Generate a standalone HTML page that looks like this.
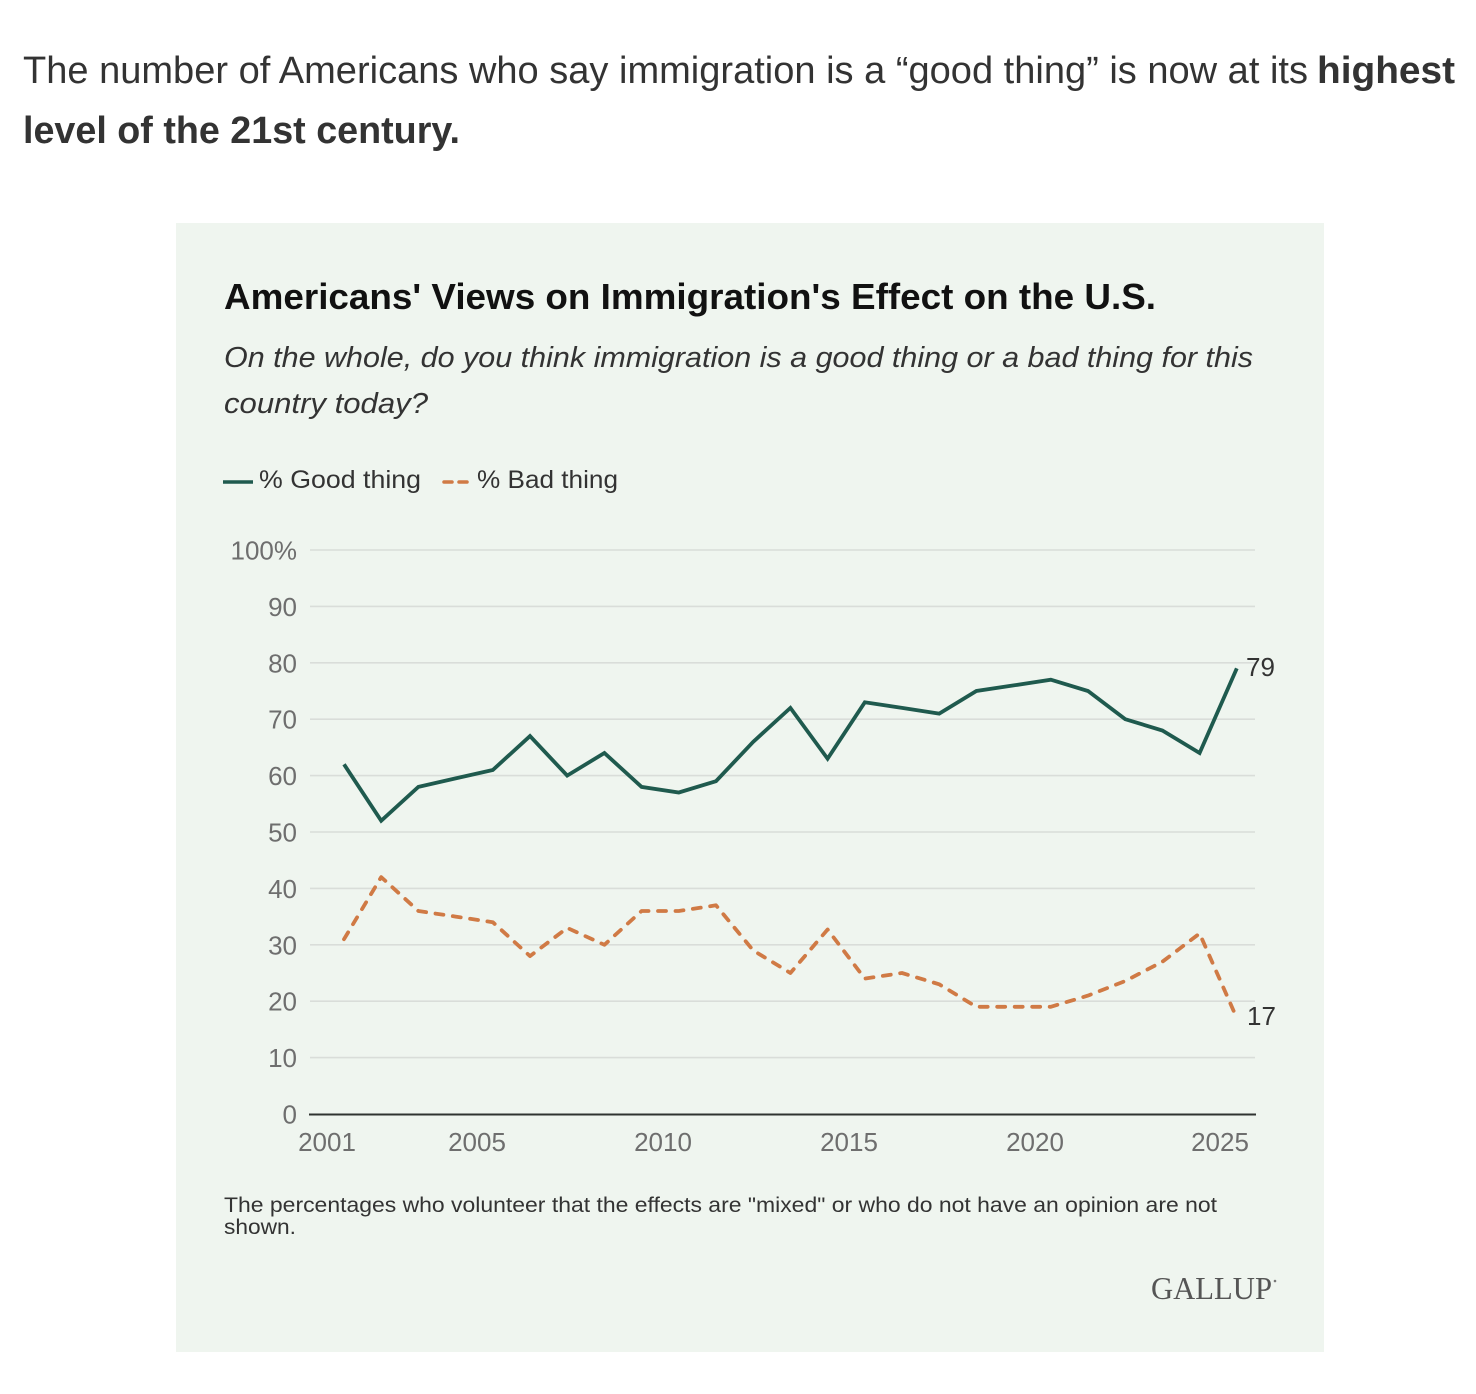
<!DOCTYPE html>
<html>
<head>
<meta charset="utf-8">
<style>
  html, body { margin: 0; padding: 0; background: #ffffff; }
  svg { display: block; }
  text { font-family: "Liberation Sans", "DejaVu Sans", sans-serif; }
</style>
</head>
<body>
<svg width="1476" height="1394" viewBox="0 0 1476 1394" xmlns="http://www.w3.org/2000/svg">
  <rect x="0" y="0" width="1476" height="1394" fill="#ffffff"/>

  <!-- Header -->
  <text x="23" y="83" font-size="38" fill="#333333" textLength="1285" lengthAdjust="spacingAndGlyphs">The number of Americans who say immigration is a “good thing” is now at its</text>
  <text x="1317" y="83" font-size="38" font-weight="bold" fill="#333333" textLength="138" lengthAdjust="spacingAndGlyphs">highest</text>
  <text x="23" y="143" font-size="38" font-weight="bold" fill="#333333" textLength="437" lengthAdjust="spacingAndGlyphs">level of the 21st century.</text>

  <!-- Card -->
  <rect x="176" y="223" width="1148" height="1129" fill="#eff5ef"/>

  <!-- Title -->
  <text x="224" y="309" font-size="36" font-weight="bold" fill="#111111" textLength="932" lengthAdjust="spacingAndGlyphs">Americans' Views on Immigration's Effect on the U.S.</text>
  <text x="224" y="367" font-size="29" font-style="italic" fill="#333333" textLength="1029" lengthAdjust="spacingAndGlyphs">On the whole, do you think immigration is a good thing or a bad thing for this</text>
  <text x="224" y="413" font-size="29" font-style="italic" fill="#333333" textLength="204" lengthAdjust="spacingAndGlyphs">country today?</text>

  <!-- Legend -->
  <line x1="223" y1="482" x2="253" y2="482" stroke="#1f5a4e" stroke-width="3.5"/>
  <text x="259" y="488" font-size="25" fill="#333333" textLength="162" lengthAdjust="spacingAndGlyphs">% Good thing</text>
  <line x1="444" y1="482" x2="452" y2="482" stroke="#d07a45" stroke-width="3.5" stroke-linecap="round"/>
  <line x1="459" y1="482" x2="467" y2="482" stroke="#d07a45" stroke-width="3.5" stroke-linecap="round"/>
  <text x="477" y="488" font-size="25" fill="#333333" textLength="141" lengthAdjust="spacingAndGlyphs">% Bad thing</text>

  <!-- Gridlines -->
  <g stroke="#d9ddd9" stroke-width="1.6">
    <line x1="310" y1="550" x2="1255" y2="550"/>
    <line x1="310" y1="606.4" x2="1255" y2="606.4"/>
    <line x1="310" y1="662.8" x2="1255" y2="662.8"/>
    <line x1="310" y1="719.2" x2="1255" y2="719.2"/>
    <line x1="310" y1="775.6" x2="1255" y2="775.6"/>
    <line x1="310" y1="832" x2="1255" y2="832"/>
    <line x1="310" y1="888.4" x2="1255" y2="888.4"/>
    <line x1="310" y1="944.8" x2="1255" y2="944.8"/>
    <line x1="310" y1="1001.2" x2="1255" y2="1001.2"/>
    <line x1="310" y1="1057.6" x2="1255" y2="1057.6"/>
  </g>
  <line x1="309" y1="1114.5" x2="1256" y2="1114.5" stroke="#2f3330" stroke-width="2"/>

  <!-- Y tick labels -->
  <g font-size="26" fill="#6e6e6e" text-anchor="end">
    <text x="297" y="559.5">100%</text>
    <text x="297" y="615.9">90</text>
    <text x="297" y="672.3">80</text>
    <text x="297" y="728.7">70</text>
    <text x="297" y="785.1">60</text>
    <text x="297" y="841.5">50</text>
    <text x="297" y="897.9">40</text>
    <text x="297" y="954.3">30</text>
    <text x="297" y="1010.7">20</text>
    <text x="297" y="1067.1">10</text>
    <text x="297" y="1123.5">0</text>
  </g>

  <!-- X tick labels -->
  <g font-size="26" fill="#6e6e6e" text-anchor="middle">
    <text x="327" y="1151">2001</text>
    <text x="477" y="1151">2005</text>
    <text x="663" y="1151">2010</text>
    <text x="849" y="1151">2015</text>
    <text x="1035" y="1151">2020</text>
    <text x="1220" y="1151">2025</text>
  </g>

  <!-- Good thing series -->
  <polyline fill="none" stroke="#1f5a4e" stroke-width="3.8" stroke-linejoin="miter" stroke-linecap="butt"
    points="344,764.3 381.2,820.7 418.4,786.9 455.6,778.4 492.8,770 530,736.1 567.2,775.6 604.4,753 641.6,786.9 678.8,792.5 716,781.2 753.2,741.8 790.4,707.9 827.6,758.7 864.8,702.3 902,707.9 939.2,713.6 976.4,691 1013.6,685.4 1050.8,679.7 1088,691 1125.2,719.2 1162.4,730.5 1199.6,753 1236.8,668.4"/>

  <!-- Bad thing series -->
  <polyline fill="none" stroke="#d07a45" stroke-width="3.8" stroke-linejoin="round" stroke-linecap="round" stroke-dasharray="8 9.5"
    points="344,939.2 381.2,877.1 418.4,911 455.6,916.6 492.8,922.2 530,956.1 567.2,927.9 604.4,944.8 641.6,911 678.8,911 716,905.3 753.2,950.4 790.4,973 827.6,929.5 864.8,978.6 902,973 939.2,984.3 976.4,1006.8 1013.6,1006.8 1050.8,1006.8 1088,995.6 1125.2,981 1162.4,961.7 1199.6,933.5 1236.8,1018.1"/>

  <!-- End labels -->
  <text x="1246" y="676" font-size="26" fill="#333333">79</text>
  <text x="1247" y="1025" font-size="26" fill="#333333">17</text>

  <!-- Footnote -->
  <text x="224" y="1212" font-size="21" fill="#333333" textLength="993" lengthAdjust="spacingAndGlyphs">The percentages who volunteer that the effects are "mixed" or who do not have an opinion are not</text>
  <text x="224" y="1234" font-size="21" fill="#333333" textLength="72" lengthAdjust="spacingAndGlyphs">shown.</text>

  <!-- Gallup logo -->
  <text x="1151" y="1299" font-size="32" fill="#555555" textLength="121" lengthAdjust="spacingAndGlyphs" style="font-family:'Liberation Serif', serif;">GALLUP</text>
  <circle cx="1275" cy="1281" r="1.3" fill="#777777"/>
</svg>
</body>
</html>
